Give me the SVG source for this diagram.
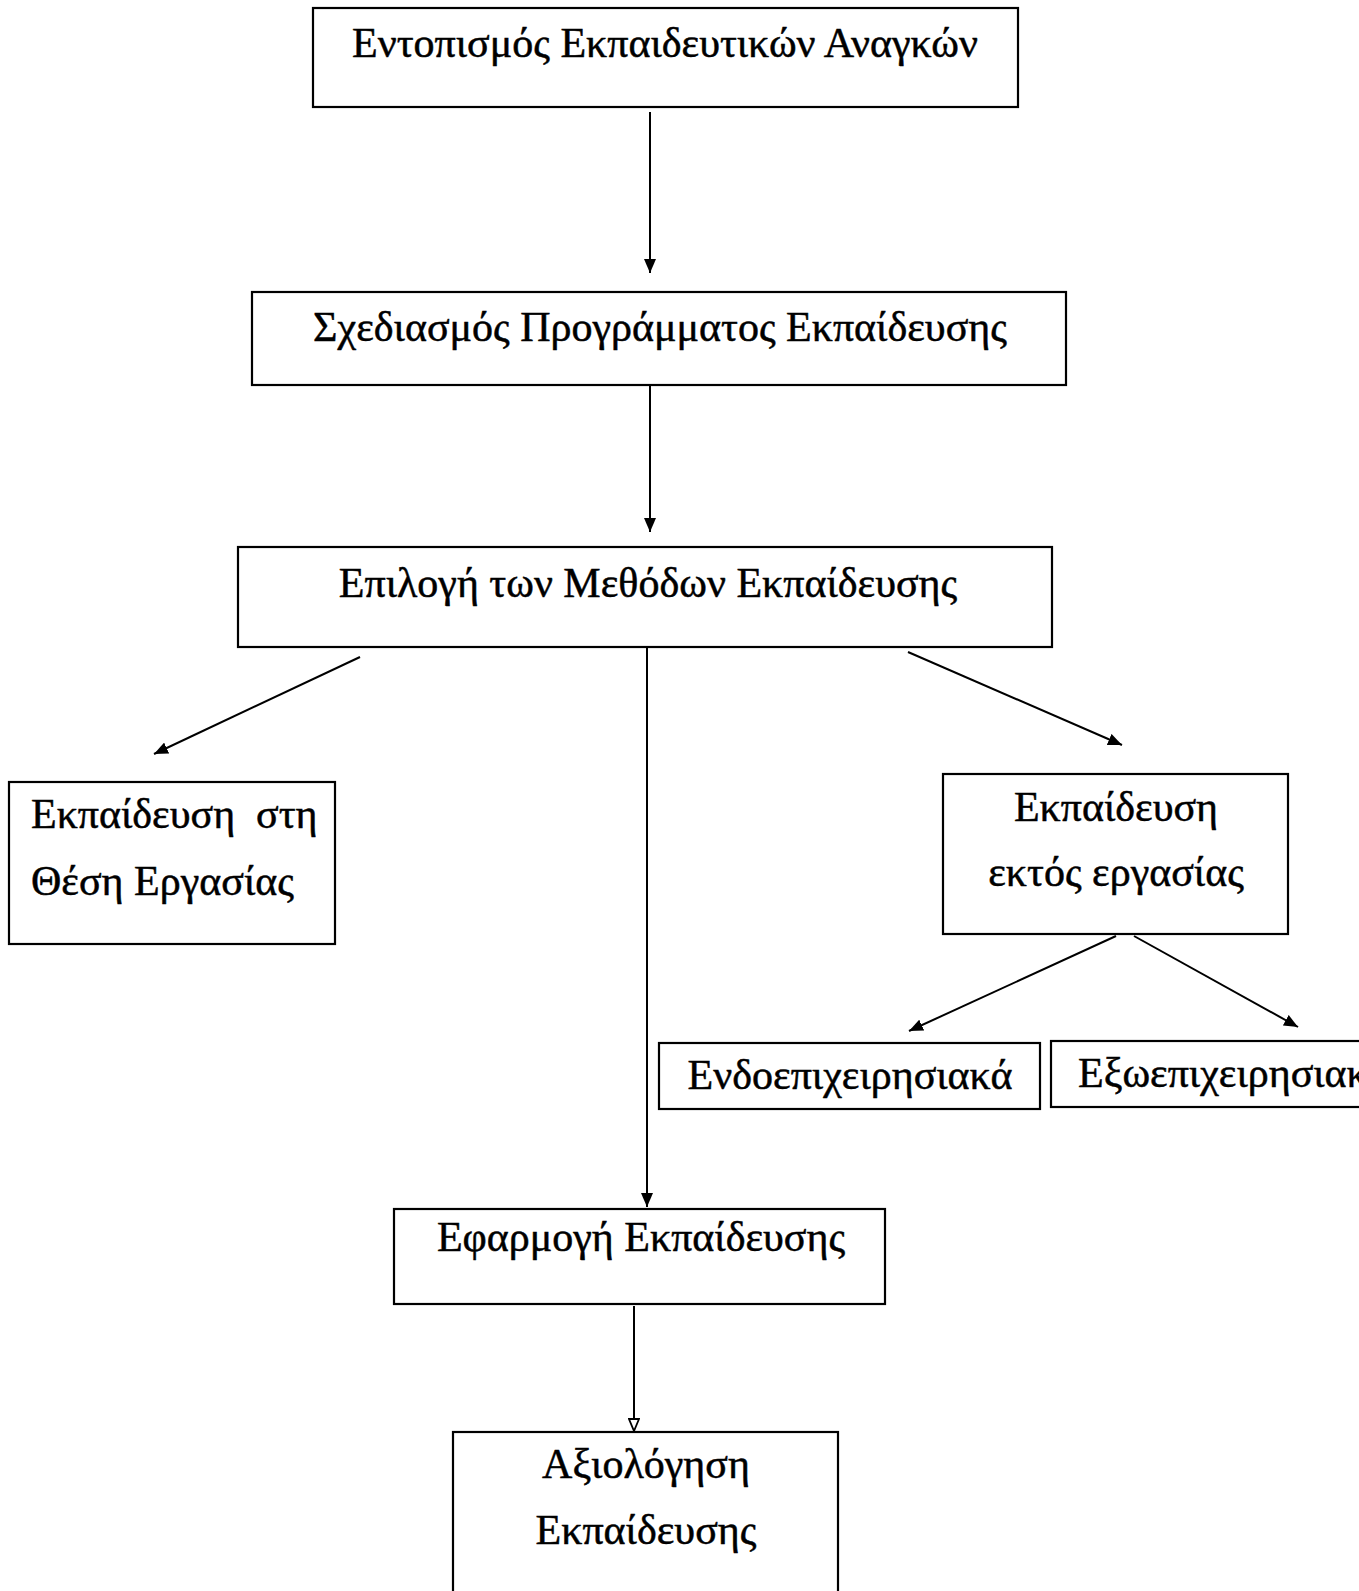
<svg xmlns="http://www.w3.org/2000/svg" width="1359" height="1591" viewBox="0 0 1359 1591">
<style>
.box{fill:#fff;stroke:#000;stroke-width:2.2}
.t{font-family:"Liberation Serif","Times New Roman",serif;font-size:42px;fill:#000;stroke:#000;stroke-width:0.5}
.c{text-anchor:middle}
.ln{stroke:#000;stroke-width:2;fill:none}
</style>
<defs>
<marker id="ah" viewBox="0 0 14 12" refX="14" refY="6" markerWidth="14" markerHeight="12" markerUnits="userSpaceOnUse" orient="auto">
<path d="M0,0 L14,6 L0,12 Z" fill="#000"/>
</marker>
<marker id="ao" viewBox="0 0 14 12" refX="14" refY="6" markerWidth="14" markerHeight="12" markerUnits="userSpaceOnUse" orient="auto">
<path d="M1,1 L13,6 L1,11 Z" fill="#fff" stroke="#000" stroke-width="1.8"/>
</marker>
</defs>
<rect width="1359" height="1591" fill="#fff"/>
<g id="connectors">
<line class="ln" x1="650" y1="112" x2="650" y2="273" marker-end="url(#ah)"/>
<line class="ln" x1="650" y1="374" x2="650" y2="532" marker-end="url(#ah)"/>
<line class="ln" x1="360" y1="657" x2="154" y2="754" marker-end="url(#ah)"/>
<line class="ln" x1="647" y1="634" x2="647" y2="1207" marker-end="url(#ah)"/>
<line class="ln" x1="908" y1="652" x2="1122" y2="745" marker-end="url(#ah)"/>
<line class="ln" x1="1116" y1="936" x2="909" y2="1031" marker-end="url(#ah)"/>
<line class="ln" x1="1134" y1="936" x2="1298" y2="1027" marker-end="url(#ah)"/>
<line class="ln" x1="634" y1="1306" x2="634" y2="1432" marker-end="url(#ao)"/>
</g>
<g id="n1"><rect class="box" x="313" y="8" width="705" height="99"/><text class="t c" x="665" y="57">Εντοπισμός Εκπαιδευτικών Αναγκών</text></g>
<g id="n2"><rect class="box" x="252" y="292" width="814" height="93"/><text class="t c" x="660" y="341">Σχεδιασμός Προγράμματος Εκπαίδευσης</text></g>
<g id="n3"><rect class="box" x="238" y="547" width="814" height="100"/><text class="t c" x="648" y="597">Επιλογή των Μεθόδων Εκπαίδευσης</text></g>
<g id="n4"><rect class="box" x="9" y="782" width="326" height="162"/><text class="t" y="828"><tspan x="31">Εκπαίδευση</tspan><tspan x="256">στη</tspan></text><text class="t" x="31" y="895">Θέση Εργασίας</text></g>
<g id="n5"><rect class="box" x="943" y="774" width="345" height="160"/><text class="t c" x="1116" y="821">Εκπαίδευση</text><text class="t c" x="1116" y="886">εκτός εργασίας</text></g>
<g id="n6"><rect class="box" x="659" y="1043" width="381" height="66"/><text class="t c" x="850" y="1089">Ενδοεπιχειρησιακά</text></g>
<g id="n7"><rect class="box" x="1051" y="1041" width="320" height="66"/><text class="t" x="1078" y="1087">Εξωεπιχειρησιακά</text></g>
<g id="n8"><rect class="box" x="394" y="1209" width="491" height="95"/><text class="t c" x="641" y="1251">Εφαρμογή Εκπαίδευσης</text></g>
<g id="n9"><rect class="box" x="453" y="1432" width="385" height="170"/><text class="t c" x="646" y="1478">Αξιολόγηση</text><text class="t c" x="646" y="1544">Εκπαίδευσης</text></g>
</svg>
